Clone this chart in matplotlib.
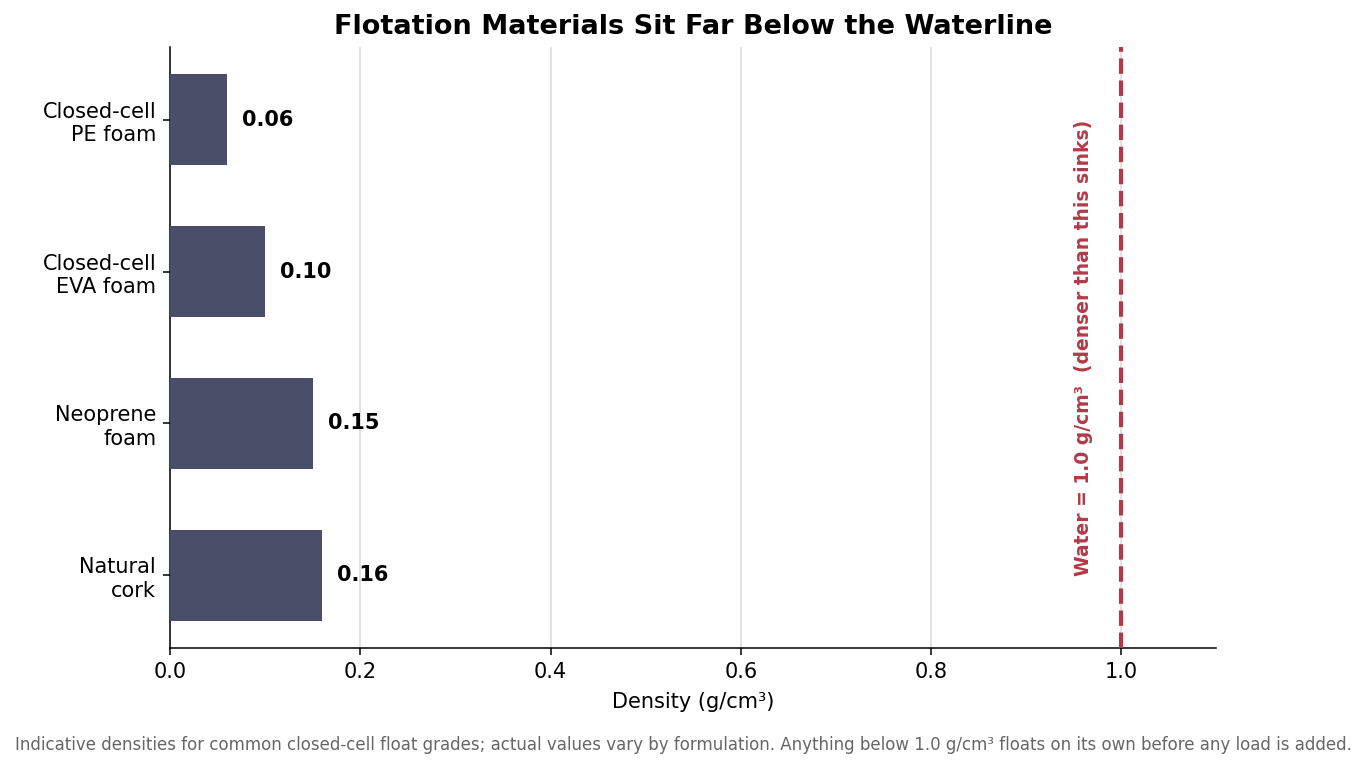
import matplotlib
matplotlib.use("Agg")
import matplotlib.pyplot as plt

# data, bottom to top
materials = ["Natural\ncork", "Neoprene\nfoam", "Closed-cell\nEVA foam", "Closed-cell\nPE foam"]
densities = [0.16, 0.15, 0.10, 0.06]
water_density = 1.0

bar_color = "#4a4e69"
water_color = "#b23a48"

fig, ax = plt.subplots(figsize=(13.66, 7.68), dpi=100)
fig.subplots_adjust(left=0.1245, right=0.8905, top=0.939, bottom=0.156)

y = list(range(len(materials)))
ax.barh(y, densities, height=0.6, color=bar_color, zorder=3)

# value labels
for yi, d in zip(y, densities):
    ax.text(d + 0.016, yi, f"{d:.2f}", va="center", ha="left",
            fontsize=15, fontweight="bold", color="black")

# waterline
ax.axvline(water_density, color=water_color, linestyle="--", linewidth=3, zorder=4)
ax.text(water_density - 0.04, 1.5, "Water = 1.0 g/cm³  (denser than this sinks)",
        rotation=90, va="center", ha="center", fontsize=13.5,
        fontweight="bold", color=water_color)

ax.set_yticks(y)
ax.set_yticklabels(materials, fontsize=15)
ax.set_xlim(0, 1.1)
ax.tick_params(axis="both", labelsize=15, length=5, width=1.1, pad=5)
ax.set_xlabel("Density (g/cm³)", fontsize=15, labelpad=7)
ax.set_title("Flotation Materials Sit Far Below the Waterline",
             fontsize=19.5, fontweight="bold", pad=9)

ax.grid(axis="x", color="#dddddd", linewidth=1.2, zorder=0)
ax.set_axisbelow(True)
ax.spines["top"].set_visible(False)
ax.spines["right"].set_visible(False)
for side in ["left", "bottom"]:
    ax.spines[side].set_linewidth(1.1)

fig.text(0.5, 0.03,
         "Indicative densities for common closed-cell float grades; actual values vary by formulation. "
         "Anything below 1.0 g/cm³ floats on its own before any load is added.",
         ha="center", va="center", fontsize=12, color="#666666")

fig.savefig("out.png", dpi=100)
